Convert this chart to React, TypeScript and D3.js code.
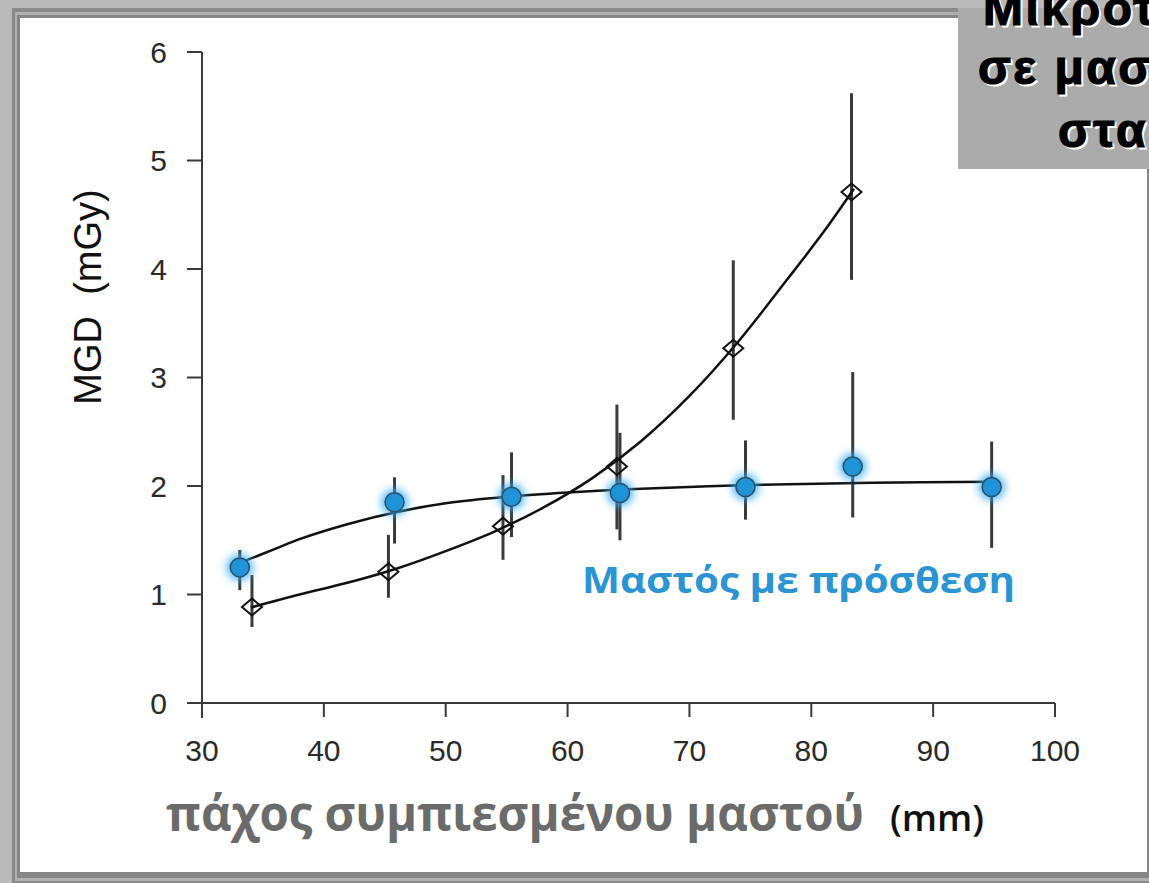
import React from "react";
import * as d3 from "d3";

// ---- data ----
const xTicks = [30, 40, 50, 60, 70, 80, 90, 100];
const yTicks = [0, 1, 2, 3, 4, 5, 6];

// plain breast (diamonds)
const diamondX = [34.1, 45.3, 54.7, 64.05, 73.6, 83.3];
const diamondY = [0.885, 1.21, 1.63, 2.18, 3.27, 4.71];
const diamondLo = [0.7, 0.97, 1.32, 1.6, 2.61, 3.9];
const diamondHi = [1.18, 1.55, 2.1, 2.75, 4.08, 5.62];

// breast with implant (blue circles)
const circleX = [33.1, 45.8, 55.4, 64.3, 74.6, 83.4, 94.8];
const circleY = [1.25, 1.85, 1.9, 1.935, 1.99, 2.18, 1.99];
const circleLo = [1.04, 1.47, 1.53, 1.5, 1.69, 1.71, 1.43];
const circleHi = [1.41, 2.08, 2.31, 2.49, 2.42, 3.05, 2.41];

// fitted curves
const fit1X = [34, 38, 42, 46, 50, 54, 58, 62, 66, 70, 74, 78, 81, 83.5];
const fit1Y = [0.88, 1.0, 1.11, 1.24, 1.4, 1.58, 1.8, 2.07, 2.41, 2.83, 3.33, 3.9, 4.34, 4.74];
const fit2X = [33.3, 36, 38, 42, 46, 50, 55, 60, 65, 75, 85, 95];
const fit2Y = [1.3, 1.42, 1.51, 1.65, 1.76, 1.84, 1.9, 1.94, 1.97, 2.01, 2.03, 2.04];

const titleLines = ["Μικροτερη δόση", "σε μαστό με", "σταθερή"];
const legendLabel = "Μαστός με πρόσθεση";
const xTitle = "πάχος συμπιεσμένου μαστού";
const xUnit = "(mm)";
const yTitle = "MGD  (mGy)";

export default function App() {
  const W = 1149;
  const H = 883;
  const x = d3.scaleLinear().domain([30, 100]).range([202, 1055]);
  const y = d3.scaleLinear().domain([0, 6]).range([703, 52]);

  const line = d3
    .line<[number, number]>()
    .x((d) => x(d[0]))
    .y((d) => y(d[1]))
    .curve(d3.curveCatmullRom.alpha(0.5));

  const fit1 = line(fit1X.map((v, i) => [v, fit1Y[i]]) as [number, number][]) || "";
  const fit2 = line(fit2X.map((v, i) => [v, fit2Y[i]]) as [number, number][]) || "";

  const axisColor = "#3a3a3a";
  const tickFont = "'Liberation Sans', Arial, sans-serif";

  const diamond = (cx: number, cy: number) =>
    `M${cx - 10},${cy} L${cx},${cy - 8.5} L${cx + 10},${cy} L${cx},${cy + 8.5} Z`;

  return (
    <svg
      width={W}
      height={H}
      style={{ position: "absolute", left: 0, top: 0 }}
      xmlns="http://www.w3.org/2000/svg"
    >
      <defs>
        <filter id="glow" x="-100%" y="-100%" width="300%" height="300%">
          <feGaussianBlur stdDeviation="4" />
        </filter>
      </defs>

      {/* frame */}
      <rect x={0} y={0} width={W} height={H} fill="#bababa" />
      <rect x={12} y={8} width={W} height={H - 4} fill="#8a8a8a" />
      <rect x={15} y={12} width={W} height={H - 14} fill="#b0b0b0" />
      <rect x={17} y={15} width={W} height={H - 20} fill="#858585" />
      <rect x={20} y={18} width={1127} height={854} fill="#ffffff" />

      {/* title box (top-right) */}
      <rect x={958} y={8} width={W - 958} height={161} fill="#ababab" />
      <g
        fontFamily="'Liberation Sans', Arial, sans-serif"
        fontWeight="bold"
        fontSize={48}
        letterSpacing={2.5}
      >
        {titleLines.map((t, i) => {
          const xs = [983, 978, 1058][i];
          const ys = [25, 84, 147][i];
          return (
            <g key={i}>
              <text x={xs + 2} y={ys + 2} fill="#ffffff" stroke="#ffffff" strokeWidth={1}>{t}</text>
              <text x={xs} y={ys} fill="#000000" stroke="#000000" strokeWidth={1.2}>{t}</text>
            </g>
          );
        })}
      </g>

      {/* axes */}
      <line x1={202} x2={202} y1={y(6)} y2={718} stroke={axisColor} strokeWidth={2} />
      <line x1={187} x2={x(100)} y1={y(0)} y2={y(0)} stroke={axisColor} strokeWidth={2} />
      {yTicks.map((t) => (
        <g key={"y" + t}>
          <line x1={187} x2={202} y1={y(t)} y2={y(t)} stroke={axisColor} strokeWidth={2} />
          <text
            x={167}
            y={y(t)}
            dy="0.36em"
            textAnchor="end"
            fontFamily={tickFont}
            fontSize={30}
            fill="#2a2a2a"
          >
            {t}
          </text>
        </g>
      ))}
      {xTicks.map((t) => (
        <g key={"x" + t}>
          <line x1={x(t)} x2={x(t)} y1={y(0)} y2={717} stroke={axisColor} strokeWidth={2} />
          <text
            x={x(t)}
            y={761}
            textAnchor="middle"
            fontFamily={tickFont}
            fontSize={30}
            fill="#2a2a2a"
          >
            {t}
          </text>
        </g>
      ))}

      {/* y title */}
      <text
        transform="translate(101,297) rotate(-90)"
        textAnchor="middle"
        fontFamily={tickFont}
        fontSize={38}
        fill="#111"
        style={{ whiteSpace: "pre" }}
      >
        {yTitle}
      </text>

      {/* x title */}
      <text
        x={166}
        y={831}
        fontFamily="'Open Sans', sans-serif"
        fontWeight={700}
        fontSize={48}
        fill="#6b6b6b"
        textLength={698}
        lengthAdjust="spacingAndGlyphs"
      >
        {xTitle}
      </text>
      <text
        x={890}
        y={831}
        fontFamily="'Open Sans', sans-serif"
        fontWeight={600}
        fontSize={36}
        fill="#111"
        textLength={94}
        lengthAdjust="spacingAndGlyphs"
      >
        {xUnit}
      </text>

      {/* legend label */}
      <text
        x={582}
        y={593}
        fontFamily="'Open Sans', sans-serif"
        fontWeight={700}
        fontSize={36}
        fill="#2b95d3"
        textLength={433}
        lengthAdjust="spacingAndGlyphs"
      >
        {legendLabel}
      </text>

      {/* error bars */}
      {diamondX.map((v, i) => (
        <line
          key={"de" + i}
          x1={x(v)}
          x2={x(v)}
          y1={y(diamondLo[i])}
          y2={y(diamondHi[i])}
          stroke="#3a3a3a"
          strokeWidth={3}
        />
      ))}
      {circleX.map((v, i) => (
        <line
          key={"ce" + i}
          x1={x(v)}
          x2={x(v)}
          y1={y(circleLo[i])}
          y2={y(circleHi[i])}
          stroke="#3a3a3a"
          strokeWidth={3}
        />
      ))}

      {/* fitted curves */}
      <path d={fit2} fill="none" stroke="#111" strokeWidth={2.5} />
      <path d={fit1} fill="none" stroke="#111" strokeWidth={2.5} />

      {/* circles */}
      {circleX.map((v, i) => (
        <g key={"c" + i}>
          <circle cx={x(v)} cy={y(circleY[i])} r={13} fill="#38aef2" opacity={0.9} filter="url(#glow)" />
          <circle
            cx={x(v)}
            cy={y(circleY[i])}
            r={9.5}
            fill="#1f93d8"
            stroke="#2e4e64"
            strokeWidth={1.5}
          />
        </g>
      ))}

      {/* diamonds */}
      {diamondX.map((v, i) => (
        <path
          key={"d" + i}
          d={diamond(x(v), y(diamondY[i]))}
          fill="none"
          stroke="#111"
          strokeWidth={2}
        />
      ))}
    </svg>
  );
}
